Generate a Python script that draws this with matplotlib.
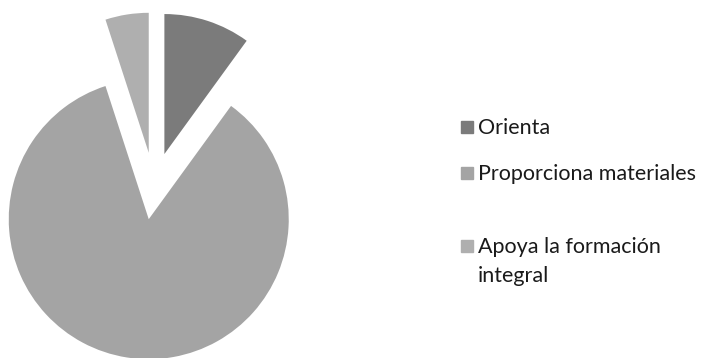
import matplotlib
matplotlib.use("Agg")
import matplotlib.pyplot as plt
from matplotlib.patches import Rectangle

# Data
labels = ['Orienta', 'Proporciona materiales', 'Apoya la formación\nintegral']
values = [10, 85, 5]
colors = ['#7b7b7b', '#a4a4a4', '#afafaf']

plt.rcParams['font.family'] = ['Lato', 'DejaVu Sans']

fig = plt.figure(figsize=(7.01, 3.58), dpi=100)
ax = fig.add_axes([0, 0, 1, 1])

# pie, slices go clockwise from 12 o'clock, all pulled out a bit
ax.pie(values, colors=colors, startangle=90, counterclock=False,
       explode=[0.24] * len(values), radius=1,
       wedgeprops=dict(linewidth=0))

# 140 px per unit, pie centre at (154, 186) px from top-left
scale = 140.0
ax.set_xlim(-154 / scale, (701 - 154) / scale)
ax.set_ylim(-(358 - 186) / scale, 186 / scale)
ax.set_aspect('auto')
ax.axis('off')

# legend, drawn by hand so the square lines up with the first text line
W, H = 701.0, 358.0
baselines = [134, 180, 253]
line_step = 29
for lab, col, y in zip(labels, colors, baselines):
    fig.patches.append(Rectangle((461 / W, 1 - (y - 1) / H), 12 / W, 12 / H,
                                 transform=fig.transFigure, color=col))
    for i, line in enumerate(lab.split('\n')):
        fig.text(478 / W, 1 - (y + i * line_step) / H, line, fontsize=15.5,
                 color='#1a1a1a', va='baseline', ha='left')

fig.savefig('out.png', dpi=100, facecolor='white')
